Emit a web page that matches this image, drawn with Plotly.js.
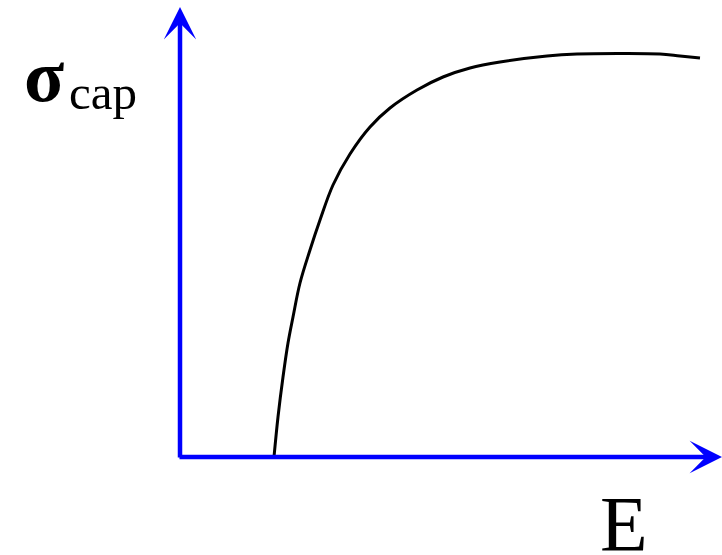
<!DOCTYPE html>
<html>
<head>
<meta charset="utf-8">
<script src="https://cdn.plot.ly/plotly-3.0.1.min.js"></script>
<style>
  html, body { margin: 0; padding: 0; background: #ffffff; }
  #chart { width: 722px; height: 555px; }
</style>
</head>
<body>
<div id="chart"></div>
<script>
// Capture cross-section as a function of energy: zero below threshold,
// steep rise, then saturation with a slight fall-off at high energy.
const energy = [94, 98, 103, 108, 113, 120, 130, 140, 153, 170, 190, 210, 237, 263, 290, 320, 367, 397, 440, 480, 500, 520];
const sigmaCap = [0, 40, 80, 114, 140, 174, 207, 237, 272, 303, 330, 349, 367, 380, 389, 395, 401, 403, 403.5, 403, 401, 399];

// Axis extents (data units)
const xMax = 542;
const yMax = 450;

const axisBlue = '#0000ff';
const serif = '"Liberation Serif", "Times New Roman", serif';

const curve = {
  x: energy,
  y: sigmaCap,
  type: 'scatter',
  mode: 'lines',
  line: { color: '#000000', width: 3, shape: 'spline', smoothing: 1 },
  hoverinfo: 'skip'
};

const hiddenAxis = {
  visible: false,
  showgrid: false,
  zeroline: false,
  fixedrange: true
};

const layout = {
  width: 722,
  height: 555,
  margin: { l: 180, r: 0, t: 7, b: 98 },
  paper_bgcolor: '#ffffff',
  plot_bgcolor: '#ffffff',
  showlegend: false,
  xaxis: Object.assign({ range: [0, xMax] }, hiddenAxis),
  yaxis: Object.assign({ range: [0, yMax] }, hiddenAxis),
  annotations: [
    // vertical axis arrow
    {
      x: 0, y: yMax, ax: 0, ay: -2,
      xref: 'x', yref: 'y', axref: 'x', ayref: 'y',
      text: '', showarrow: true,
      arrowhead: 3, arrowsize: 1.2, arrowwidth: 4.5, arrowcolor: axisBlue,
      standoff: 0, startstandoff: 0
    },
    // horizontal axis arrow
    {
      x: xMax, y: 0, ax: -2, ay: 0,
      xref: 'x', yref: 'y', axref: 'x', ayref: 'y',
      text: '', showarrow: true,
      arrowhead: 3, arrowsize: 1.2, arrowwidth: 4.5, arrowcolor: axisBlue,
      standoff: 0, startstandoff: 0
    },
    // y-axis label: sigma
    {
      x: -0.2915, y: 0.847, xref: 'paper', yref: 'paper',
      xanchor: 'left', yanchor: 'middle',
      text: '<b>σ</b>', showarrow: false,
      font: { family: serif, size: 74, color: '#000000' }
    },
    // y-axis label: subscript
    {
      x: -0.2085, y: 0.81, xref: 'paper', yref: 'paper',
      xanchor: 'left', yanchor: 'middle',
      text: 'cap', showarrow: false,
      font: { family: serif, size: 49, color: '#000000' }
    },
    // x-axis label
    {
      x: 0.771, y: -0.148, xref: 'paper', yref: 'paper',
      xanchor: 'left', yanchor: 'middle',
      text: 'E', showarrow: false,
      font: { family: serif, size: 78, color: '#000000' }
    }
  ]
};

Plotly.newPlot('chart', [curve], layout, { displayModeBar: false, staticPlot: true });
</script>
</body>
</html>
